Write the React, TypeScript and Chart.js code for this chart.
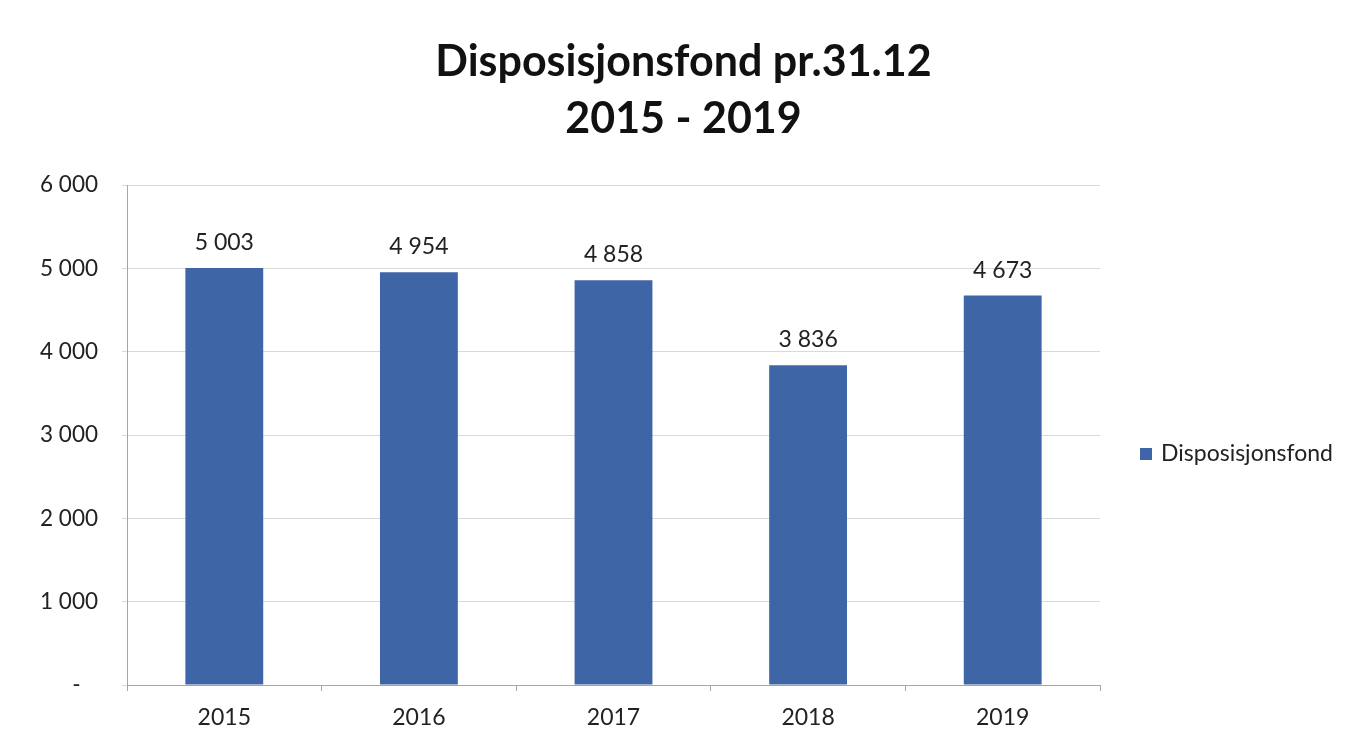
import React, { useEffect, useRef } from "react";
import { Chart, registerables } from "chart.js";

Chart.register(...registerables);

const titleLines = ["Disposisjonsfond pr.31.12", "2015 - 2019"];
const categories = ["2015", "2016", "2017", "2018", "2019"];
const seriesName = "Disposisjonsfond";
const values = [5003, 4954, 4858, 3836, 4673];
const yTicks = [0, 1000, 2000, 3000, 4000, 5000, 6000];

const FONT = "Lato, 'Open Sans', sans-serif";
const BAR_COLOR = "#3e65a5";
const TEXT_COLOR = "#222222";

const fmt = (v: number) => {
  if (v === 0) return "-   ";
  const s = Math.round(v).toString();
  return s.replace(/\B(?=(\d{3})+(?!\d))/g, " ");
};

const dataLabelPlugin = {
  id: "dataLabels",
  afterDatasetsDraw(chart: any) {
    const ctx = chart.ctx;
    const meta = chart.getDatasetMeta(0);
    ctx.save();
    ctx.font = `23px ${FONT}`;
    ctx.fillStyle = TEXT_COLOR;
    ctx.textAlign = "center";
    ctx.textBaseline = "alphabetic";
    meta.data.forEach((bar: any, i: number) => {
      const v = chart.data.datasets[0].data[i];
      ctx.fillText(fmt(v), bar.x, bar.y - 18);
    });
    ctx.restore();
  },
};

const legendPlugin = {
  id: "customLegend",
  afterDraw(chart: any) {
    const ctx = chart.ctx;
    const x = chart.chartArea.right + 40;
    const y = 454;
    ctx.save();
    ctx.fillStyle = BAR_COLOR;
    ctx.fillRect(x, y - 6, 12, 12);
    ctx.font = `23px ${FONT}`;
    ctx.fillStyle = TEXT_COLOR;
    ctx.textAlign = "left";
    ctx.textBaseline = "middle";
    ctx.fillText(chart.data.datasets[0].label, x + 21, y);
    ctx.restore();
  },
};

// centre the title over the whole canvas rather than the padded plot region
const titleCenterPlugin = {
  id: "titleCenter",
  afterLayout(chart: any) {
    const t = chart.titleBlock;
    if (t) {
      t.left = 12;
      t.right = chart.width;
      t.width = t.right - t.left;
    }
  },
};

export default function App() {
  const ref = useRef<HTMLCanvasElement>(null);
  useEffect(() => {
    if (!ref.current) return;
    const chart = new Chart(ref.current, {
      type: "bar",
      data: {
        labels: categories,
        datasets: [
          {
            label: seriesName,
            data: values,
            backgroundColor: BAR_COLOR,
            borderWidth: 0,
            categoryPercentage: 1,
            barPercentage: 0.4,
          },
        ],
      },
      options: {
        animation: false,
        responsive: false,
        devicePixelRatio: 1,
        layout: { padding: { left: 0, right: 255, top: 0, bottom: 0 } },
        plugins: {
          legend: { display: false },
          tooltip: { enabled: false },
          title: {
            display: true,
            text: titleLines,
            color: "#111111",
            font: { family: FONT, size: 43, weight: "bold", lineHeight: 57 / 43 },
            padding: { top: 33.5, bottom: 37.5 },
          },
        },
        scales: {
          x: {
            offset: true,
            grid: {
              offset: true,
              drawOnChartArea: false,
              drawTicks: true,
              tickLength: 6,
              color: "#a6a6a6",
            },
            border: { display: true, color: "#a6a6a6" },
            ticks: {
              color: TEXT_COLOR,
              font: { family: FONT, size: 23 },
              padding: 13,
              maxRotation: 0,
            },
            afterFit(scale: any) {
              scale.height = 59;
            },
          },
          y: {
            min: 0,
            max: 6000,
            afterBuildTicks(scale: any) {
              scale.ticks = yTicks.map((v) => ({ value: v }));
            },
            grid: {
              color: "#d9d9d9",
              drawTicks: true,
              tickLength: 5,
            },
            border: { display: true, color: "#a6a6a6" },
            ticks: {
              color: TEXT_COLOR,
              font: { family: FONT, size: 22.5 },
              padding: 24,
              callback: (v: any) => fmt(Number(v)),
            },
            afterFit(scale: any) {
              scale.width = 127;
            },
          },
        },
      },
      plugins: [dataLabelPlugin, legendPlugin, titleCenterPlugin],
    });
    return () => chart.destroy();
  }, []);
  return (
    <div style={{ position: "absolute", left: 0, top: 0, width: 1355, height: 744, background: "#ffffff" }}>
      <canvas ref={ref} width={1355} height={744} />
    </div>
  );
}
